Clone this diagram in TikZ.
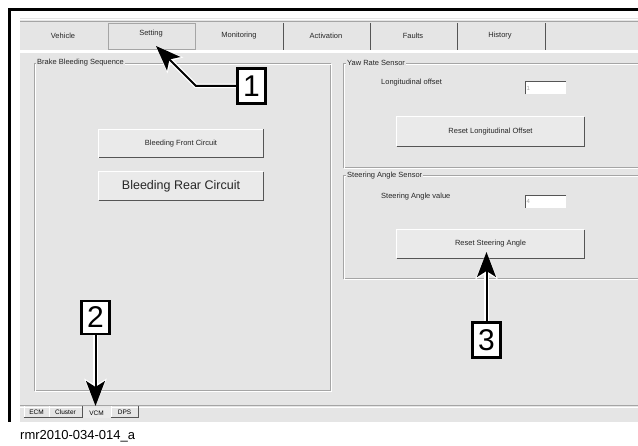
\documentclass[tikz,border=0pt]{standalone}
\usepackage{fontspec}
\setmainfont{Liberation Sans}
\usepackage{tikz}
\usetikzlibrary{arrows.meta,positioning}
\definecolor{winbg}{RGB}{229,229,229}
\definecolor{winedge}{RGB}{165,165,165}
\definecolor{winshade}{RGB}{85,85,85}
\definecolor{winface}{RGB}{234,234,234}

\tikzset{
  uitext/.style={font=\fontsize{7.5}{9}\selectfont, inner sep=1pt, text=black!85},
  grouptitle/.style={uitext, fill=winbg, anchor=west},
  winbutton/.style={fill=winface, minimum width=164pt, minimum height=28pt, inner sep=0pt, font=\fontsize{7.5}{9}\selectfont, text=black!85},
  winfield/.style={fill=white, minimum width=41pt, minimum height=12pt, inner sep=1.5pt, font=\fontsize{6}{7}\selectfont, text=winedge, text width=38pt, anchor=north west, align=left},
  bottomtab/.style={minimum height=11pt, inner sep=0pt, font=\fontsize{6.5}{7}\selectfont},
  callout/.style={draw=black, line width=1.6pt, fill=white, minimum width=27pt, minimum height=34pt, inner sep=0pt, font=\fontsize{30}{30}\selectfont},
  pointer/.style={line width=2pt, -{Stealth[length=25pt,width=19pt,inset=6pt]},
    preaction={draw=white, line width=4.5pt, -{Stealth[length=27pt,width=22pt,inset=6pt]}}},
}

\begin{document}
\begin{tikzpicture}[x=1pt, y=-1pt]
\useasboundingbox (0,0) rectangle (638,446);

% screen and frame
\fill[winbg] (20,18) rectangle (638,422);
\draw[line width=2.7pt] (9.3,422) -- (9.3,9.3) -- (638,9.3);
\draw[white, line width=1.5pt] (20,19.5) -- (638,19.5);
\draw[winedge] (20,21.3) -- (638,21.3);
\draw[white, line width=2.5pt] (20,51.5) -- (638,51.5);

% upper tabs
\draw[winedge, line width=0.8pt] (108,23) rectangle (195,49.5);
\foreach \x in {283,370,457,545}
  \draw[winshade, line width=1pt] (\x,23) -- (\x,50);
\foreach \t/\x/\y [count=\i] in {Vehicle/63/36, Setting/151/34, Monitoring/239/36,
    Activation/326/36, Faults/413/36, History/500/36}
  \node[uitext] (tab\i) at (\x,\y) {\t};

% group boxes
\draw[winedge] (34,63) rectangle (330,390);
\draw[white] (35,64) rectangle (331,391);
\draw[winedge] (638,63) -- (343,63) -- (343,167) -- (638,167);
\draw[white] (638,64) -- (344,64) -- (344,168) -- (638,168);
\draw[winedge] (638,175) -- (343,175) -- (343,278) -- (638,278);
\draw[white] (638,176) -- (344,176) -- (344,279) -- (638,279);
\node[grouptitle] (gbrake) at (36,63) {Brake Bleeding Sequence};
\node[grouptitle] (gyaw) at (346,63) {Yaw Rate Sensor};
\node[grouptitle] (gsteer) at (346,176) {Steering Angle Sensor};

% buttons
\node[winbutton] (bfront) at (181,143.5) {Bleeding Front Circuit};
\node[winbutton, font=\fontsize{12.5}{14}\selectfont] (brear) at (181,186) {Bleeding Rear Circuit};
\node[winbutton, minimum width=187pt, minimum height=29pt] (blong) at (490.5,131.5) {Reset Longitudinal Offset};
\node[winbutton, minimum width=187pt] (bsteer) at (490.5,244) {Reset Steering Angle};
\foreach \b in {bfront,brear,blong,bsteer} {
  \draw[white, line width=1pt] (\b.south west) -- (\b.north west) -- (\b.north east);
  \draw[winshade, line width=1.3pt] (\b.south west) -- (\b.south east) -- (\b.north east);
}

% sensor values
\node[uitext, anchor=west] (llong) at (380,83) {Longitudinal offset};
\node[uitext, anchor=west] (lsteer) at (380,197) {Steering Angle value};
\node[winfield] (flong) at (525,82) {1};
\node[winfield] (fsteer) at (525,195.5) {4};
\foreach \f in {flong,fsteer}
  \draw[winshade, line width=1pt] (\f.south west) -- (\f.north west) -- (\f.north east);

% lower tabs
\draw[winedge, line width=1pt] (20,405.5) -- (638,405.5);
\draw[white] (20,407) -- (638,407);
\node[bottomtab, minimum width=25pt] (tecm) at (36.5,412) {ECM};
\node[bottomtab, minimum width=33pt] (tcluster) at (65.5,412) {Cluster};
\node[bottomtab, minimum width=29pt, fill=winface] (tvcm) at (96.5,413) {VCM};
\node[bottomtab, minimum width=27pt] (tdps) at (124.5,412) {DPS};
\foreach \b in {tecm,tcluster,tdps} {
  \draw[white] (\b.south west) -- (\b.north west);
  \draw[winshade, line width=0.8pt] (\b.south west) -- (\b.south east) -- (\b.north east);
}

% callouts
\node[callout] (c1) at (251.5,86) {1};
\node[callout, minimum height=32pt] (c2) at (95.5,317.5) {2};
\node[callout] (c3) at (486.5,340) {3};
\coordinate (k1) at (196,86);
\coordinate (t1) at (156,46);
\coordinate (t2) at (95.5,406);
\coordinate (t3) at (486.5,252);
\draw[pointer] (c1.west) -- (k1) -- (t1);
\draw[pointer] (c2.south) -- (t2);
\draw[pointer] (c3.north) -- (t3);
\foreach \c in {c1,c2,c3}
  \draw[line width=1.6pt] (\c.south west) rectangle (\c.north east);

\node[font=\fontsize{13}{15}\selectfont, anchor=west, inner sep=0pt] (caption) at (20,436) {rmr2010-034-014\_a};
\end{tikzpicture}
\end{document}
